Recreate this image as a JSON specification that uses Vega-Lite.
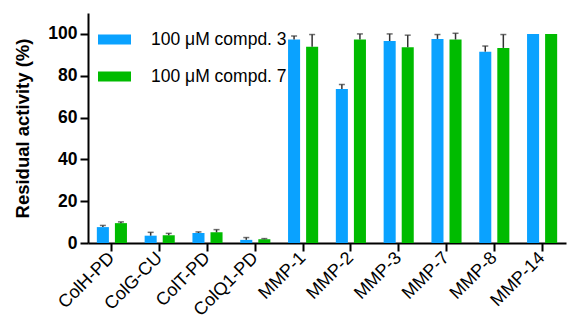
{
  "$schema": "https://vega.github.io/schema/vega-lite/v6.json",
  "autosize": "none",
  "width": 478,
  "height": 230,
  "padding": {"left": 88, "top": 13, "right": 3, "bottom": 88},
  "background": "white",
  "config": {"view": {"stroke": null}, "font": "Liberation Sans"},
  "data": {"values": [
    {"target": "ColH-PD", "cmpd": "100 μM compd. 3", "value": 7.6, "upper": 8.4},
    {"target": "ColH-PD", "cmpd": "100 μM compd. 7", "value": 9.5, "upper": 10.1},
    {"target": "ColG-CU", "cmpd": "100 μM compd. 3", "value": 3.5, "upper": 5.1},
    {"target": "ColG-CU", "cmpd": "100 μM compd. 7", "value": 3.7, "upper": 4.6},
    {"target": "ColT-PD", "cmpd": "100 μM compd. 3", "value": 4.8, "upper": 5.3},
    {"target": "ColT-PD", "cmpd": "100 μM compd. 7", "value": 5.1, "upper": 6.4},
    {"target": "ColQ1-PD", "cmpd": "100 μM compd. 3", "value": 1.5, "upper": 2.6},
    {"target": "ColQ1-PD", "cmpd": "100 μM compd. 7", "value": 1.8, "upper": 2.1},
    {"target": "MMP-1", "cmpd": "100 μM compd. 3", "value": 97.3, "upper": 99.0},
    {"target": "MMP-1", "cmpd": "100 μM compd. 7", "value": 93.9, "upper": 99.7},
    {"target": "MMP-2", "cmpd": "100 μM compd. 3", "value": 73.7, "upper": 75.8},
    {"target": "MMP-2", "cmpd": "100 μM compd. 7", "value": 97.3, "upper": 100.0},
    {"target": "MMP-3", "cmpd": "100 μM compd. 3", "value": 96.6, "upper": 100.0},
    {"target": "MMP-3", "cmpd": "100 μM compd. 7", "value": 93.6, "upper": 99.4},
    {"target": "MMP-7", "cmpd": "100 μM compd. 3", "value": 97.6, "upper": 99.7},
    {"target": "MMP-7", "cmpd": "100 μM compd. 7", "value": 97.3, "upper": 100.3},
    {"target": "MMP-8", "cmpd": "100 μM compd. 3", "value": 91.5, "upper": 94.2},
    {"target": "MMP-8", "cmpd": "100 μM compd. 7", "value": 93.3, "upper": 99.7},
    {"target": "MMP-14", "cmpd": "100 μM compd. 3", "value": 100.0, "upper": null},
    {"target": "MMP-14", "cmpd": "100 μM compd. 7", "value": 100.0, "upper": null}
  ]},
  "encoding": {
    "x": {
      "field": "target", "type": "nominal", "sort": null,
      "scale": {"paddingInner": 0.37, "paddingOuter": 0.185},
      "axis": {"title": null, "labelAngle": -45, "labelAlign": "right", "labelBaseline": "middle",
               "labelFontSize": 18, "labelColor": "black",
               "domainColor": "black", "domainWidth": 2, "tickColor": "black", "tickWidth": 2,
               "tickSize": 8, "labelPadding": 4}
    },
    "xOffset": {"field": "cmpd", "type": "nominal", "scale": {"paddingInner": 0.333, "paddingOuter": 0}}
  },
  "layer": [
    {
      "mark": {"type": "bar"},
      "encoding": {
        "y": {
          "field": "value", "type": "quantitative",
          "scale": {"domain": [0, 110], "nice": false},
          "axis": {"title": "Residual activity (%)", "values": [0, 20, 40, 60, 80, 100],
                   "grid": false, "labelFontSize": 17.5, "labelFontWeight": "bold", "labelColor": "black",
                   "titleFontSize": 18.5, "titleFontWeight": "bold", "titleColor": "black",
                   "domainColor": "black", "domainWidth": 2, "tickColor": "black", "tickWidth": 2,
                   "tickSize": 8, "labelPadding": 3, "titlePadding": 15}
        },
        "color": {
          "field": "cmpd", "type": "nominal",
          "scale": {"range": ["#0aa2ff", "#00bb00"]},
          "legend": {"title": null, "orient": "none", "legendX": 10, "legendY": 10,
                     "symbolType": "M-1,-0.3H1V0.3H-1Z", "symbolSize": 1089,
                     "symbolStrokeWidth": 0, "labelFontSize": 17.5, "labelColor": "black",
                     "labelOffset": 20, "rowPadding": 12, "padding": 0}
        }
      }
    },
    {
      "mark": {"type": "rule", "color": "#333333", "strokeWidth": 1.5},
      "encoding": {
        "y": {"field": "value", "type": "quantitative"},
        "y2": {"field": "upper"}
      }
    },
    {
      "mark": {"type": "tick", "color": "#333333", "thickness": 1.5, "size": 6},
      "encoding": {
        "y": {"field": "upper", "type": "quantitative"}
      }
    }
  ]
}
